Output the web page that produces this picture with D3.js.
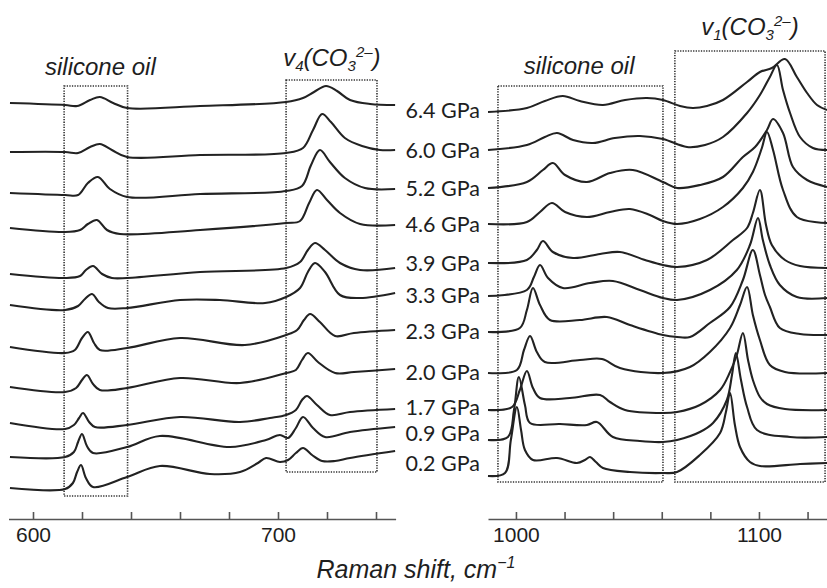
<!DOCTYPE html>
<html>
<head>
<meta charset="utf-8">
<script src="https://cdn.jsdelivr.net/npm/d3@7/dist/d3.min.js"></script>
<style>
  body { margin: 0; background: #fff; }
  svg { display: block; }
</style>
</head>
<body>
<svg id="chart" width="827" height="588"></svg>
<script>
// Raman spectra of the carbonate sample under pressure, stacked (offset intensity, a.u.)
const pressures = ["6.4 GPa", "6.0 GPa", "5.2 GPa", "4.6 GPa", "3.9 GPa", "3.3 GPa",
                   "2.3 GPa", "2.0 GPa", "1.7 GPa", "0.9 GPa", "0.2 GPa"];

// level (a.u.) at which each pressure label sits
const labelLevels = [410, 370, 332, 296, 257, 225, 189, 148, 113, 87, 57];

// 590–748 cm-1 window: silicone oil band + v4(CO3 2-)
const lowSpectra = [
  [[590.6,417],[613.1,415],[618.0,414],[623.3,420],[627.3,423],[632.7,417],[638.4,412],[668.2,414],[703.3,418],[710.2,422],[714.7,428],[719.6,434],[724.1,429],[729.4,420],[737.6,416],[747.8,415]],
  [[590.6,368],[613.1,368],[618.4,367],[623.3,373],[627.3,376],[632.2,370],[638.4,363],[668.2,365],[703.3,367],[710.2,372],[714.3,390],[718.0,406],[721.6,398],[727.3,382],[734.3,374],[741.6,370],[747.8,370]],
  [[590.6,327],[613.1,325],[618.4,325],[622.4,337],[626.5,343],[631.4,331],[638.4,323],[668.2,326],[703.3,329],[709.8,334],[713.5,355],[717.1,370],[721.2,358],[727.3,342],[735.5,332],[747.8,331]],
  [[590.6,292],[613.1,288],[619.2,290],[622.4,296],[626.1,300],[630.2,290],[635.5,286],[668.2,290],[703.3,297],[709.0,299],[712.7,317],[715.9,330],[720.0,320],[725.3,307],[733.5,296],[747.8,295]],
  [[590.6,246],[613.1,242],[619.2,244],[621.6,250],[624.5,254],[628.2,246],[632.2,242],[638.4,242],[668.2,248],[703.3,252],[709.0,258],[712.2,270],[715.1,277],[719.2,270],[725.3,257],[733.5,250],[747.8,252]],
  [[590.6,215],[613.1,210],[618.4,214],[621.2,221],[624.1,226],[626.9,218],[630.6,212],[638.4,212],[660.0,220],[676.3,220],[694.7,217],[703.3,223],[709.0,232],[712.2,248],[715.1,257],[719.2,248],[725.3,225],[733.5,222],[747.8,227]],
  [[590.6,173],[613.1,167],[617.1,170],[620.0,182],[622.4,188],[624.9,177],[627.3,170],[638.4,172],[660.0,182],[686.5,175],[703.3,185],[707.8,190],[710.6,200],[713.1,206],[717.1,198],[723.3,184],[731.0,187],[747.8,190]],
  [[590.6,133],[613.1,128],[617.6,132],[620.0,140],[622.0,145],[624.5,136],[627.3,130],[638.4,132],[660.0,142],[684.5,137],[703.3,147],[707.3,150],[709.8,160],[712.2,167],[716.3,158],[723.3,147],[731.0,148],[747.8,151]],
  [[590.6,97],[613.1,91],[616.7,95],[618.8,102],[620.4,107],[622.9,98],[625.3,93],[638.4,95],[660.0,103],[684.5,98],[696.7,102],[703.3,105],[707.3,110],[709.8,120],[711.8,124],[715.9,115],[721.2,105],[729.4,108],[747.8,111]],
  [[590.6,63],[613.1,63],[616.7,68],[618.4,78],[620.0,86],[622.0,74],[624.5,67],[638.4,73],[651.8,84],[680.4,73],[695.1,80],[700.8,85],[704.1,82],[707.3,92],[710.2,103],[714.3,92],[719.2,83],[729.4,88],[747.8,93]],
  [[590.6,32],[613.1,31],[616.3,37],[618.0,48],[619.6,55],[621.6,42],[624.5,33],[638.4,43],[651.8,54],[672.2,46],[684.5,48],[691.8,57],[695.1,62],[700.8,58],[704.1,60],[707.3,67],[710.2,72],[713.9,65],[718.0,59],[723.3,59],[729.4,62],[747.8,69]]
];

// 988–1128 cm-1 window: silicone oil bands + v1(CO3 2-)
const highSpectra = [
  [[988.5,408],[1004.5,412],[1011.9,419],[1019.3,424],[1026.3,419],[1035.8,415],[1044.9,420],[1053.9,422],[1060.5,420],[1067.5,414],[1072.8,412],[1078.6,414],[1085.2,420],[1095.1,438],[1100.4,448],[1105.3,452],[1110.7,461],[1115.6,443],[1119.8,427],[1123.9,415],[1128.0,410]],
  [[988.5,370],[1004.5,375],[1011.9,383],[1016.9,387],[1023.5,380],[1031.7,377],[1040.7,382],[1051.0,384],[1060.5,381],[1070.4,373],[1077.8,375],[1085.2,383],[1095.1,407],[1100.4,425],[1104.5,443],[1107.4,455],[1109.9,430],[1112.8,407],[1116.9,383],[1122.2,372],[1128.0,370]],
  [[988.5,332],[1004.5,338],[1011.1,350],[1015.2,357],[1020.2,345],[1029.2,338],[1038.7,347],[1048.1,350],[1060.5,338],[1066.3,332],[1075.7,335],[1085.2,343],[1093.4,363],[1098.4,373],[1103.3,390],[1105.8,401],[1109.9,387],[1114.0,353],[1119.8,340],[1128.0,333]],
  [[988.5,296],[1004.5,298],[1009.9,308],[1014.8,317],[1020.2,308],[1029.2,303],[1038.7,308],[1046.9,311],[1055.1,305],[1060.5,299],[1066.3,296],[1075.7,301],[1085.2,313],[1093.4,332],[1097.5,348],[1101.2,372],[1103.3,388],[1105.8,370],[1109.9,330],[1115.6,303],[1128.0,297]],
  [[988.5,257],[1004.5,260],[1008.6,270],[1011.1,279],[1015.2,268],[1023.5,262],[1034.6,266],[1042.8,268],[1053.1,260],[1060.5,255],[1066.3,253],[1078.6,260],[1089.3,280],[1095.1,292],[1097.5,307],[1100.4,330],[1102.9,295],[1105.3,275],[1110.7,260],[1116.9,254],[1128.0,252]],
  [[988.5,224],[1004.5,230],[1007.4,243],[1009.9,255],[1013.2,242],[1019.3,232],[1030.5,237],[1039.9,239],[1051.0,230],[1060.5,222],[1066.3,220],[1079.8,230],[1090.9,250],[1096.3,275],[1099.6,302],[1101.6,280],[1104.5,255],[1108.6,235],[1115.6,223],[1128.0,222]],
  [[988.5,188],[1001.6,192],[1004.5,210],[1007.0,232],[1009.9,215],[1014.0,200],[1026.3,200],[1037.4,203],[1046.9,195],[1060.5,185],[1066.3,183],[1071.6,183],[1079.8,197],[1088.1,213],[1093.4,240],[1097.5,270],[1100.4,245],[1102.5,225],[1104.5,213],[1108.6,192],[1116.9,186],[1128.0,185]],
  [[988.5,147],[1000.4,150],[1003.3,170],[1005.8,184],[1008.6,168],[1011.9,158],[1026.3,160],[1035.4,161],[1042.8,152],[1060.5,147],[1071.6,153],[1079.8,168],[1088.1,192],[1092.2,215],[1095.1,233],[1097.5,205],[1100.4,180],[1104.5,155],[1110.7,148],[1128.0,147]],
  [[988.5,110],[998.4,113],[1001.6,130],[1004.5,149],[1007.0,132],[1009.9,122],[1022.2,122],[1034.6,125],[1038.7,118],[1044.9,110],[1060.5,107],[1066.3,108],[1075.7,115],[1084.0,130],[1088.1,148],[1090.9,165],[1093.4,187],[1095.5,160],[1097.5,140],[1100.4,123],[1103.3,116],[1110.7,111],[1128.0,110]],
  [[988.5,80],[996.7,83],[999.2,110],[1001.2,143],[1003.7,115],[1005.8,97],[1018.1,96],[1029.2,95],[1033.3,98],[1039.9,83],[1051.0,79],[1060.5,78],[1066.3,80],[1075.7,88],[1081.1,97],[1086.8,120],[1088.9,145],[1090.5,167],[1092.6,140],[1095.1,113],[1099.2,90],[1112.8,83],[1128.0,83]],
  [[988.5,44],[995.5,47],[997.9,80],[1000.4,113],[1002.1,90],[1003.7,70],[1007.0,60],[1016.9,62],[1025.1,57],[1028.4,60],[1030.5,63],[1032.9,58],[1035.8,52],[1046.9,48],[1060.5,47],[1066.3,48],[1075.7,65],[1084.0,87],[1086.4,108],[1088.1,127],[1090.1,95],[1092.2,73],[1096.3,58],[1100.4,54],[1116.9,56],[1128.0,57]]
];

const lowTicks = [600, 620, 640, 660, 680, 700, 720, 740];
const highTicks = [1000, 1020, 1040, 1060, 1080, 1100, 1120];

// highlighted bands: [wavenumber from, to, intensity bottom, top]
const lowBands = [[612.7, 638.6, 24, 434], [703.3, 740.4, 48, 440]];
const highBands = [[992.6, 1060.5, 38, 434], [1065.4, 1127.2, 38, 469]];

const svg = d3.select("#chart");
svg.append("rect").attr("width", 827).attr("height", 588).attr("fill", "#fff");

const y = d3.scaleLinear().domain([0, 500]).range([520, 20]);
const xLow = d3.scaleLinear().domain([590, 748]).range([8.5, 395.6]);
const xHigh = d3.scaleLinear().domain([988.5, 1128]).range([488, 827]);

const ink = "#222";

function drawPanel(x, spectra, bands, ticks) {
  const g = svg.append("g");

  g.selectAll("rect.band").data(bands).join("rect")
    .attr("class", "band")
    .attr("x", d => x(d[0])).attr("y", d => y(d[3]))
    .attr("width", d => x(d[1]) - x(d[0]))
    .attr("height", d => y(d[2]) - y(d[3]))
    .attr("fill", "none").attr("stroke", "#333")
    .attr("stroke-width", 1.6).attr("stroke-dasharray", "1.3,1.3");

  const line = d3.line()
    .x(d => x(d[0])).y(d => y(d[1]))
    .curve(d3.curveCatmullRom.alpha(0.5));

  g.selectAll("path.spec").data(spectra).join("path")
    .attr("class", "spec")
    .attr("d", line)
    .attr("fill", "none").attr("stroke", ink)
    .attr("stroke-width", 2.1).attr("stroke-linejoin", "round");

  const axis = d3.axisBottom(x).tickValues(ticks)
    .tickSize(-7).tickSizeOuter(0).tickPadding(8)
    .tickFormat(d => d % 100 === 0 ? d : "");
  const ag = svg.append("g").attr("transform", "translate(0,519)").call(axis);
  ag.select(".domain").attr("stroke", "#555").attr("stroke-width", 1.6);
  ag.selectAll(".tick line").attr("stroke", "#555").attr("stroke-width", 1.6);
  ag.selectAll(".tick text")
    .attr("font-family", "'Liberation Sans', Arial, sans-serif")
    .attr("font-size", 21).attr("fill", "#1e1e1e");
}

drawPanel(xLow, lowSpectra, lowBands, lowTicks);
drawPanel(xHigh, highSpectra, highBands, highTicks);

// pressure labels between the two windows
svg.append("g").selectAll("text").data(pressures).join("text")
  .attr("x", 480)
  .attr("y", (d, i) => y(labelLevels[i]))
  .attr("dy", "0.36em")
  .attr("text-anchor", "end")
  .attr("font-family", "Lato, 'Open Sans', sans-serif")
  .attr("font-size", 21.5).attr("fill", "#1e1e1e")
  .text(d => d);

// band annotations
const italic = "'Liberation Sans', Arial, sans-serif";
function bandTitle(xPos, yPos, parts) {
  const t = svg.append("text")
    .attr("x", xPos).attr("y", yPos)
    .attr("text-anchor", "middle")
    .attr("font-family", italic).attr("font-style", "italic")
    .attr("font-size", 24).attr("fill", "#1e1e1e");
  parts.forEach(p => {
    const s = t.append("tspan").text(p.t);
    if (p.dy) s.attr("dy", p.dy);
    if (p.fs) s.attr("font-size", p.fs);
  });
}

bandTitle(xLow(627.5), y(445), [{t: "silicone oil"}]);
bandTitle(xHigh(1026), y(446), [{t: "silicone oil"}]);

function carbonate(xPos, yPos, mode) {
  bandTitle(xPos, yPos, [
    {t: "v"}, {t: mode, fs: 15, dy: 5},
    {t: "(CO", dy: -5}, {t: "3", fs: 15, dy: 5},
    {t: "2\u2013", fs: 15, dy: -14}, {t: ")", dy: 9}
  ]);
}
carbonate(xLow(722), y(454), "4");
carbonate(xHigh(1096.3), y(485), "1");

// axis title
const title = svg.append("text")
  .attr("x", 416).attr("y", 578)
  .attr("text-anchor", "middle")
  .attr("font-family", italic).attr("font-style", "italic")
  .attr("font-size", 25).attr("fill", "#1e1e1e");
title.append("tspan").text("Raman shift, cm");
title.append("tspan").text("\u22121").attr("font-size", 16).attr("dy", -10);
</script>
</body>
</html>
